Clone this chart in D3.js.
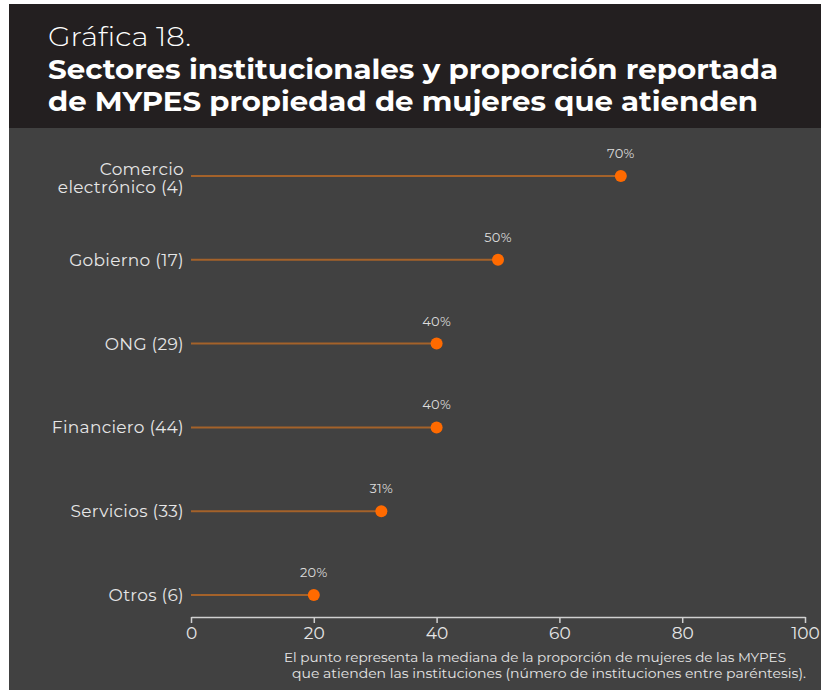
<!DOCTYPE html>
<html>
<head>
<meta charset="utf-8">
<script src="https://cdn.jsdelivr.net/npm/d3@7"></script>
<style>
  body { margin: 0; background: #fff; }
  text { font-family: Montserrat, "Open Sans", sans-serif; }
</style>
</head>
<body>
<script>
// Data
const categories = [["Comercio", "electrónico (4)"], ["Gobierno (17)"], ["ONG (29)"], ["Financiero (44)"], ["Servicios (33)"], ["Otros (6)"]];
const values = [70, 50, 40, 40, 31, 20];
const xTicks = [0, 20, 40, 60, 80, 100];

const width = 821, height = 690;

const svg = d3.select("body").append("svg")
    .attr("width", width)
    .attr("height", height);

// Panels
svg.append("rect").attr("x", 9).attr("y", 4).attr("width", width - 9).attr("height", height - 4).attr("fill", "#414141");
svg.append("rect").attr("x", 9).attr("y", 4).attr("width", width - 9).attr("height", 124).attr("fill", "#231f20");

// Header
svg.append("text")
    .attr("x", 48).attr("y", 46)
    .attr("fill", "#fff")
    .attr("font-size", 27)
    .attr("font-weight", 300)
    .attr("textLength", 143)
    .attr("lengthAdjust", "spacingAndGlyphs")
    .text("Gráfica 18.");

const titleLines = ["Sectores institucionales y proporción reportada", "de MYPES propiedad de mujeres que atienden"];
svg.selectAll(".title")
    .data(titleLines)
  .enter().append("text")
    .attr("class", "title")
    .attr("x", 48)
    .attr("y", (d, i) => 79 + i * 32)
    .attr("fill", "#fff")
    .attr("font-size", 28)
    .attr("font-weight", 700)
    .attr("textLength", (d, i) => i === 0 ? 730 : 710)
    .attr("lengthAdjust", "spacingAndGlyphs")
    .text(d => d);

// Scales
const x = d3.scaleLinear().domain([0, 100]).range([191, 805]);
const y = d3.scalePoint().domain(d3.range(categories.length)).range([176, 595]);

// Lollipops
const rows = svg.selectAll(".row")
    .data(values)
  .enter().append("g")
    .attr("class", "row");

rows.append("line")
    .attr("x1", x(0))
    .attr("x2", d => x(d))
    .attr("y1", (d, i) => y(i))
    .attr("y2", (d, i) => y(i))
    .attr("stroke", "#a4622a")
    .attr("stroke-width", 2);

rows.append("circle")
    .attr("cx", d => x(d))
    .attr("cy", (d, i) => y(i))
    .attr("r", 6)
    .attr("fill", "#ff6a00");

rows.append("text")
    .attr("x", d => x(d))
    .attr("y", (d, i) => y(i) - 18)
    .attr("text-anchor", "middle")
    .attr("fill", "#dcdcdc")
    .attr("font-size", 13)
    .attr("letter-spacing", 0.3)
    .text(d => d + "%");

// Category labels
svg.selectAll(".cat")
    .data(categories)
  .enter().append("text")
    .attr("class", "cat")
    .attr("text-anchor", "end")
    .attr("fill", "#e6e6e6")
    .attr("font-size", 17)
    .attr("letter-spacing", 0.3)
    .each(function(d, i) {
      const t = d3.select(this);
      const y0 = d.length > 1 ? y(i) - 1 : y(i) + 6;
      d.forEach((line, j) => {
        t.append("tspan").attr("x", 184).attr("y", y0 + j * 18).text(line);
      });
    });

// Axis
const xAxis = d3.axisBottom(x)
    .tickValues(xTicks)
    .tickSize(6)
    .tickSizeOuter(0)
    .tickPadding(4);

const axisG = svg.append("g")
    .attr("transform", "translate(0,617)")
    .call(xAxis);

axisG.select(".domain").attr("stroke", "#d0d0d0").attr("stroke-width", 1.5);
axisG.selectAll(".tick line").attr("stroke", "#d0d0d0").attr("stroke-width", 1.5);
axisG.selectAll(".tick text")
    .attr("fill", "#e6e6e6")
    .attr("font-size", 17)
    .attr("font-family", "Montserrat, 'Open Sans', sans-serif");

// Footnote
const notes = ["El punto representa la mediana de la proporción de mujeres de las MYPES", "que atienden las instituciones (número de instituciones entre paréntesis)."];
svg.selectAll(".note")
    .data(notes)
  .enter().append("text")
    .attr("class", "note")
    .attr("x", (d, i) => i === 0 ? 284 : 292)
    .attr("y", (d, i) => 662 + i * 16)
    .attr("fill", "#e6e6e6")
    .attr("font-size", 12.5)
    .attr("textLength", (d, i) => i === 0 ? 502 : 514)
    .attr("lengthAdjust", "spacingAndGlyphs")
    .text(d => d);
</script>
</body>
</html>
